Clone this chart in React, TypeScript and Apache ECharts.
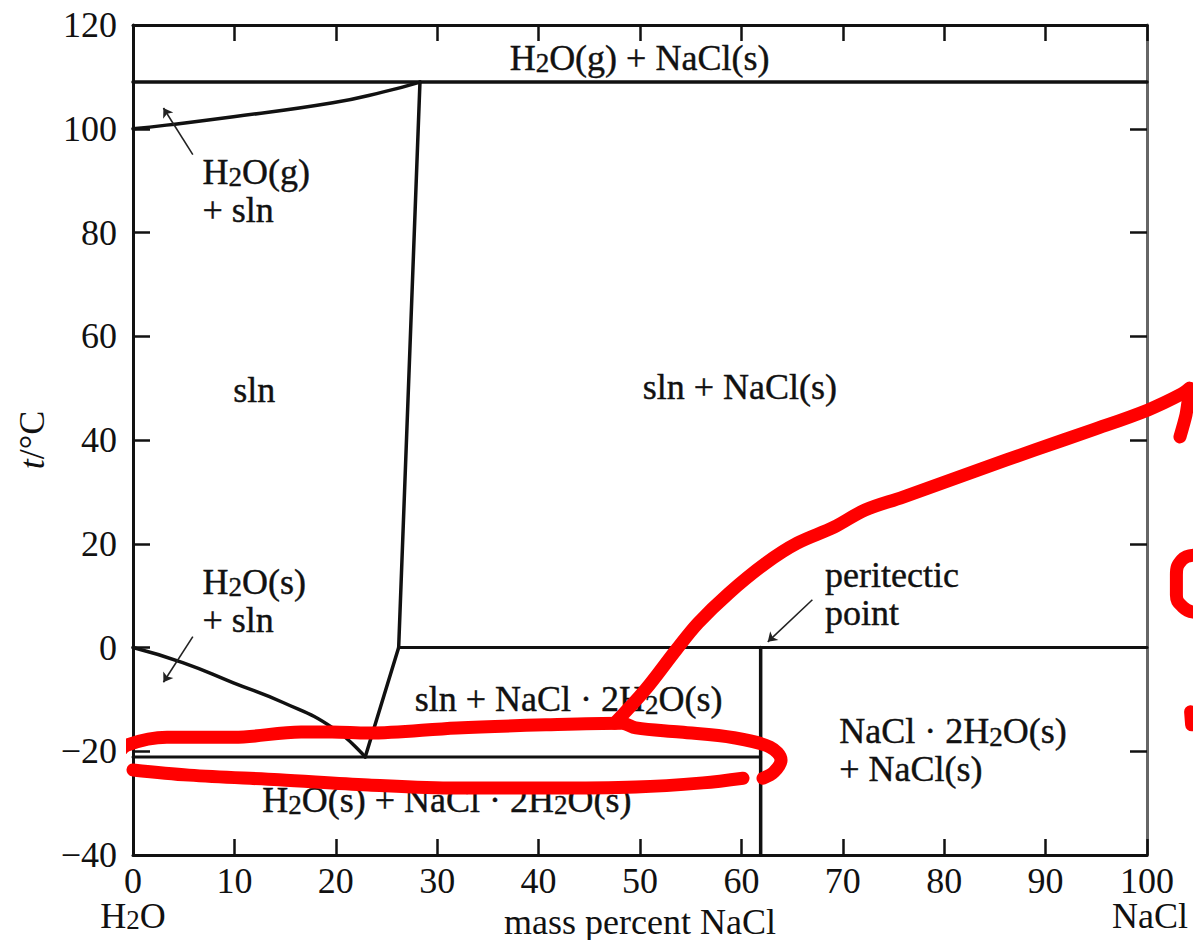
import React, { useEffect, useRef } from "react";
import * as echarts from "echarts";

// ---------- data (mass percent NaCl, temperature °C) ----------
const xTicks = [0, 10, 20, 30, 40, 50, 60, 70, 80, 90, 100];
const yTicks = [-40, -20, 0, 20, 40, 60, 80, 100, 120];

const boilingCurve = [[0, 100], [3.3, 100.7], [9.9, 102.3], [19.7, 105], [24.7, 107.1], [28.3, 109]];
const saturationCurve = [[26.2, 0], [28.3, 109]];
const iceCurve = [[0, 0], [4.9, -2.9], [9.9, -6.8], [14.8, -10.6], [19.7, -15.5], [22.9, -21.1]];
const dihydrateCurve = [[22.9, -21.1], [26.2, 0]];
const vaporLine = [[0, 109], [100, 109]];
const peritecticLine = [[26.2, 0], [100, 0]];
const eutecticLine = [[0, -21.1], [61.9, -21.1]];
const peritecticVertical = [[61.9, -40], [61.9, 0]];

const regionTexts = [
  "{n|H}{s|2}{n|O(g) + NaCl(s)}",
  "{n|H}{s|2}{n|O(g)}\n{n|+ sln}",
  "{n|sln}",
  "{n|sln + NaCl(s)}",
  "{n|H}{s|2}{n|O(s)}\n{n|+ sln}",
  "{n|sln + NaCl · 2H}{s|2}{n|O(s)}",
  "{n|H}{s|2}{n|O(s) + NaCl · 2H}{s|2}{n|O(s)}",
  "{n|peritectic}\n{n|point}",
  "{n|NaCl · 2H}{s|2}{n|O(s)}\n{n|+ NaCl(s)}",
];
const regionAnchors = [[50, 113.6], [6.9, 88.0], [12.0, 49.6], [59.9, 50.2], [6.9, 8.9], [43.0, -10.1], [31.0, -29.4], [68.3, 10.2], [69.7, -19.9]];
const regionAlign = ["center", "left", "center", "center", "left", "center", "center", "left", "left"];

const arrowSegments = [
  [[5.9, 95], [3.0, 104]],
  [[5.9, 2.1], [3.0, -6.7]],
  [[67.0, 9.2], [62.6, 1.1]],
];

// hand-drawn red annotation strokes
const redStrokeUpper = [[-1.48, -20.7], [-0.59, -18.8], [3.35, -17.3], [9.96, -17.3], [16.57, -16.3], [19.63, -16.3], [23.18, -16.5], [31.95, -15.5], [40.73, -14.9], [48.22, -14.6], [49.6, -15.5], [53.94, -16.3], [59.27, -17.4], [62.82, -19.2], [63.91, -21.7], [63.21, -24.0], [62.13, -25.2]];
const redStrokeLower = [[0, -23.6], [5.52, -24.6], [14.4, -25.5], [23.2, -26.5], [31.95, -27.1], [40.73, -27.1], [49.6, -26.9], [56.2, -26.1], [60.16, -25.2]];
const redStrokeRise = [[47.5, -14.6], [50.5, -8.2], [53.55, -0.5], [55.72, 4.7], [58.78, 10.5], [62.43, 16.3], [65.48, 20.1], [69.13, 23.2], [72.19, 26.5], [75.94, 29.0], [83.33, 34.2], [88.95, 38.1], [94.58, 41.9], [100.1, 45.8], [103.45, 48.9], [104.2, 50.0]];
const redArrowTip = [[104.2, 49.6], [103.85, 44.9], [103.25, 40.6]];
const redArc = [[104.6, 17.8], [103.45, 16.9], [102.9, 14.0], [102.9, 10.1], [103.55, 7.8], [104.6, 6.8]];
const redMark = [[104.3, -12.4], [104.4, -14.9]];

const FONT = '"Liberation Serif", "Times New Roman", serif';
const INK = "#111111";
const FS = 36;

const rich = {
  n: { fontFamily: FONT, fontSize: FS, color: INK, lineHeight: 38, textBorderColor: INK, textBorderWidth: 0.4 },
  s: { fontFamily: FONT, fontSize: 27, color: INK, lineHeight: 24, verticalAlign: "bottom" as const, textBorderColor: INK, textBorderWidth: 0.4 },
};
const plainRich = {
  n: { fontFamily: FONT, fontSize: FS, fill: INK, lineHeight: 34 },
  s: { fontFamily: FONT, fontSize: 27, fill: INK, lineHeight: 22, verticalAlign: "bottom" as const },
};

const fmt = (v: number) => (v < 0 ? "\u2212" + Math.abs(v) : String(v));

function blackLine(data: number[][], width: number, smooth: boolean | number = false) {
  return {
    type: "line",
    data,
    smooth,
    symbol: "none",
    silent: true,
    clip: false,
    lineStyle: { color: "#111", width, cap: "round", join: "round" },
    z: 2,
  };
}

function redLine(data: number[][], smooth: number = 0.35) {
  return {
    type: "line",
    data,
    smooth,
    xAxisIndex: 2,
    yAxisIndex: 2,
    symbol: "none",
    silent: true,
    clip: false,
    lineStyle: { color: "#ff0000", width: 13, cap: "round", join: "round" },
    z: 10,
  };
}

export default function App() {
  const ref = useRef<HTMLDivElement>(null);
  useEffect(() => {
    if (!ref.current) return;
    const chart = echarts.init(ref.current, null, { renderer: "svg" });
    const axisLbl = { fontFamily: FONT, fontSize: FS, color: INK };
    // plot frame: 0..100 spans 1014px; the annotation layer extends to the image edge
    const annotMax = (100 * 1060) / 1014;
    const option: any = {
      animation: false,
      backgroundColor: "#ffffff",
      grid: [
        { left: 133, top: 25, width: 1014, height: 830, containLabel: false, outerBoundsMode: "none" },
        { left: 133, top: 25, width: 1060, height: 830, containLabel: false, outerBoundsMode: "none" },
      ],
      xAxis: [
        {
          type: "value",
          gridIndex: 0,
          min: 0,
          max: 100,
          interval: 10,
          position: "bottom",
          axisLine: { onZero: false, lineStyle: { color: "#111", width: 3 } },
          axisTick: { inside: true, length: 16, lineStyle: { color: "#111", width: 2.5 } },
          axisLabel: { ...axisLbl, lineHeight: 32, margin: 10, formatter: (v: number) => (xTicks.includes(v) ? fmt(v) : "") },
          splitLine: { show: false },
          name: "mass percent NaCl",
          nameLocation: "middle",
          nameGap: 42,
          nameTextStyle: { fontFamily: FONT, fontSize: FS, color: INK, lineHeight: 34 },
        },
        {
          type: "value",
          gridIndex: 0,
          min: 0,
          max: 100,
          interval: 10,
          position: "top",
          axisLine: { onZero: false, lineStyle: { color: "#111", width: 3 } },
          axisTick: { inside: true, length: 16, lineStyle: { color: "#111", width: 2.5 } },
          axisLabel: { show: false },
          splitLine: { show: false },
        },
        { type: "value", gridIndex: 1, min: 0, max: annotMax, show: false },
      ],
      yAxis: [
        {
          type: "value",
          gridIndex: 0,
          min: -40,
          max: 120,
          interval: 20,
          position: "left",
          axisLine: { onZero: false, lineStyle: { color: "#111", width: 3 } },
          axisTick: { inside: true, length: 17, lineStyle: { color: "#111", width: 2.5 } },
          axisLabel: { ...axisLbl, margin: 16, formatter: (v: number) => (yTicks.includes(v) ? fmt(v) : "") },
          splitLine: { show: false },
          name: "{i|t}/°C",
          nameLocation: "middle",
          nameGap: 80,
          nameRotate: 90,
          nameTextStyle: {
            fontFamily: FONT,
            fontSize: FS,
            color: INK,
            rich: { i: { fontFamily: FONT, fontSize: FS, color: INK, fontStyle: "italic" } },
          },
        },
        {
          type: "value",
          gridIndex: 0,
          min: -40,
          max: 120,
          interval: 20,
          position: "right",
          axisLine: { onZero: false, lineStyle: { color: "#666", width: 3 } },
          axisTick: { inside: true, length: 17, lineStyle: { color: "#111", width: 2.5 } },
          axisLabel: { show: false },
          splitLine: { show: false },
        },
        { type: "value", gridIndex: 1, min: -40, max: 120, show: false },
      ],
      graphic: [
        {
          type: "text",
          x: 133,
          y: 916,
          silent: true,
          style: { text: "{n|H}{s|2}{n|O}", rich: plainRich, align: "center", verticalAlign: "middle" },
        },
        {
          type: "text",
          x: 1150,
          y: 916,
          silent: true,
          style: { text: "NaCl", fontFamily: FONT, fontSize: FS, lineHeight: 32, fill: INK, align: "center", verticalAlign: "middle" },
        },
      ],
      series: [
        blackLine(vaporLine, 3.5),
        blackLine(boilingCurve, 3.5, true),
        blackLine(saturationCurve, 3.5),
        blackLine(iceCurve, 3.5, true),
        blackLine(dihydrateCurve, 3.5),
        blackLine(peritecticLine, 3),
        blackLine(eutecticLine, 3),
        blackLine(peritecticVertical, 3.5),
        {
          type: "lines",
          coordinateSystem: "cartesian2d",
          silent: true,
          symbol: ["none", "arrow"],
          symbolSize: 9,
          lineStyle: { color: "#222", width: 1.6, opacity: 1 },
          data: arrowSegments.map((c) => ({ coords: c })),
          z: 3,
        },
        {
          type: "scatter",
          symbolSize: 1,
          clip: false,
          silent: true,
          itemStyle: { color: "#fff", opacity: 0 },
          data: regionTexts.map((t, i) => ({
            value: regionAnchors[i],
            label: {
              show: true,
              formatter: t,
              position: [0, 0],
              align: regionAlign[i],
              verticalAlign: "middle",
              color: INK,
              opacity: 1,
              rich,
            },
          })),
          z: 4,
        },
        redLine(redStrokeUpper),
        redLine(redStrokeLower),
        redLine(redStrokeRise),
        redLine(redArrowTip, 0.2),
        redLine(redArc, 0.5),
        redLine(redMark, 0),
      ],
    };
    chart.setOption(option);
    return () => chart.dispose();
  }, []);
  return (
    <div
      ref={ref}
      style={{ position: "absolute", left: 0, top: 0, width: 1193, height: 940, background: "#fff" }}
    />
  );
}
